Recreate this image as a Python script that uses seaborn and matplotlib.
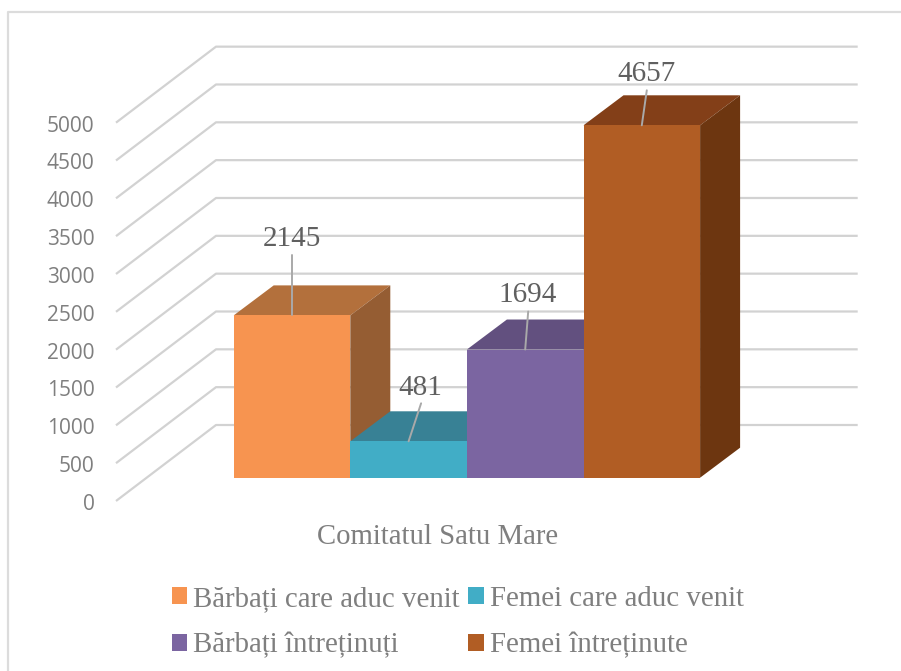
import matplotlib.pyplot as plt
from matplotlib.patches import Polygon
import seaborn as sns

# data
categories = ['Bărbați care aduc venit', 'Femei care aduc venit', 'Bărbați întreținuți', 'Femei întreținute']
values = [2145, 481, 1694, 4657]
axis_ticks = [0, 500, 1000, 1500, 2000, 2500, 3000, 3500, 4000, 4500, 5000]
group_label = 'Comitatul Satu Mare'

# colours
front_colors = ['#F79450', '#41ADC6', '#7B65A1', '#B15D24']
top_colors = ['#B3703C', '#388195', '#62507F', '#833F18']
side_colors = ['#955D33', '#2F6C7D', '#53436B', '#6D3610']
grid_color = '#D2D2D2'
text_color = '#7F7F7F'
label_color = '#606060'

# label placement relative to the top of each bar, in pixels
leader_ends = [(0, 60), (12.5, 38), (3, 38), (5, 35)]
label_offsets = [(0, 76.5), (11.5, 53.5), (2, 55), (4.5, 51.5)]

# pixel layout of the fake 3d chart
W, H = 901, 671
PX_PER_CAT = 116.6
PX_PER_UNIT = 0.07567
LEFT_EDGE = 233.7
BASE_Y = 477.7

sns.set_theme(style='white')
plt.rcParams['font.family'] = ['Liberation Serif', 'DejaVu Sans']

fig = plt.figure(figsize=(W / 100, H / 100), dpi=100)
ax = fig.add_axes([0, 0, 1, 1])

sns.barplot(x=categories, y=values, hue=categories, palette=front_colors, saturation=1,
            width=1, dodge=False, legend=True, ax=ax, zorder=3, linewidth=0)

ax.set_xlim(-0.5 - LEFT_EDGE / PX_PER_CAT, -0.5 + (W - LEFT_EDGE) / PX_PER_CAT)
ax.set_ylim(-(H - BASE_Y) / PX_PER_UNIT, BASE_Y / PX_PER_UNIT)


def px_x(p):
    return p / PX_PER_CAT


def px_y(p):
    return p / PX_PER_UNIT


x_wall = -0.5 + px_x(216 - LEFT_EDGE)
x_end = -0.5 + px_x(857.7 - LEFT_EDGE)
x_front = x_wall - px_x(100)
wall_up = px_y(477.7 - 425)
front_down = px_y(501 - 477.7)

# back wall gridlines with the slanted side wall part
for t in axis_ticks:
    ax.plot([x_front, x_wall, x_end], [t - front_down, t + wall_up, t + wall_up],
            color=grid_color, lw=1.6, zorder=1, solid_capstyle='butt')
    ax.text(x_front - px_x(21.5), t - front_down - px_y(3.5), str(t), ha='right', va='center',
            family='Open Sans', fontsize=15, color=text_color)

# top and side faces of the bars
depth_x = px_x(40)
depth_y = px_y(30)
for i, (cont, v) in enumerate(zip(ax.containers, values)):
    bar = cont[0]
    x0, x1 = bar.get_x(), bar.get_x() + bar.get_width()
    ax.add_patch(Polygon([(x0, v), (x1, v), (x1 + depth_x, v + depth_y), (x0 + depth_x, v + depth_y)],
                         closed=True, facecolor=top_colors[i], edgecolor='none', zorder=2))
    ax.add_patch(Polygon([(x1, 0), (x1 + depth_x, depth_y), (x1 + depth_x, v + depth_y), (x1, v)],
                         closed=True, facecolor=side_colors[i], edgecolor='none', zorder=2))
    xc = (x0 + x1) / 2
    ex, ey = leader_ends[i]
    ax.plot([xc, xc + px_x(ex)], [v, v + px_y(ey)], color='#A9A9A9', lw=1.4, zorder=4)
    lx, ly = label_offsets[i]
    ax.text(xc + px_x(lx), v + px_y(ly), str(v), ha='center', va='center',
            fontsize=21, color=label_color, zorder=5)

ax.text(1.5 + px_x(438 - 467), -px_y(537 - BASE_Y), group_label, ha='center', va='center',
        fontsize=20.7, color=text_color)

# legend, filled column by column
handles, labels = ax.get_legend_handles_labels()
order = [0, 2, 1, 3]
ax.legend([handles[i] for i in order], [labels[i] for i in order], ncol=2, frameon=False,
          loc='upper left', bbox_to_anchor=(171.5 / W, 1 - 586 / H), bbox_transform=fig.transFigure,
          borderaxespad=0, borderpad=0, fontsize=20.8, labelcolor=text_color,
          handlelength=0.54, handleheight=0.54, handletextpad=0.2, columnspacing=0.31, labelspacing=0.7)

ax.axis('off')

# chart frame, only the top and left sides are visible
fig.add_artist(plt.Line2D([8 / W, 8 / W, 1], [0, 1 - 12 / H, 1 - 12 / H], color='#DCDCDC', lw=1.6))

fig.savefig('out.png', dpi=100)
